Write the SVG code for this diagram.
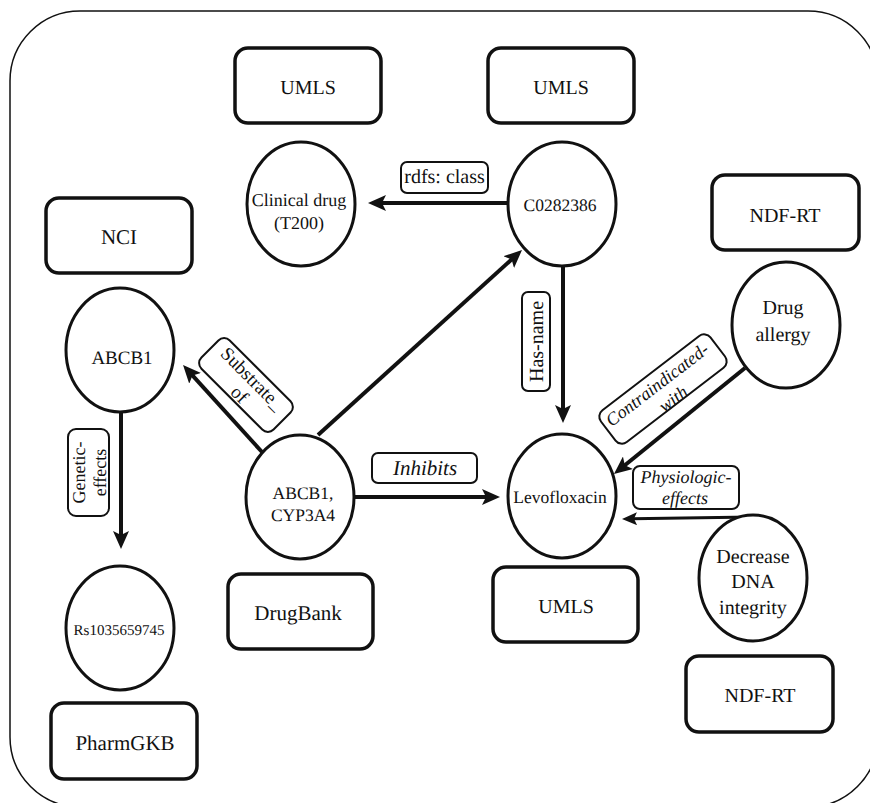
<svg xmlns="http://www.w3.org/2000/svg" width="870" height="803" viewBox="0 0 870 803">
<defs>
<style>
text{font-family:"Liberation Serif",serif;fill:#111;text-anchor:middle;dominant-baseline:central;text-rendering:geometricPrecision}
.f15{font-size:15px}.f175{font-size:17.5px}.f18{font-size:18px}.f19{font-size:19px}.f20{font-size:20px}.f21{font-size:21px}
.src{fill:#fff;stroke:#111;stroke-width:3.5}
.ent{fill:#fff;stroke:#111;stroke-width:3}
.lbl{fill:#fff;stroke:#111;stroke-width:2}
.edge{fill:none;stroke:#111;stroke-width:4}
.thin{fill:none;stroke:#111;stroke-width:3}
.it{font-style:italic}
</style>
<marker id="ah" markerUnits="userSpaceOnUse" markerWidth="18" markerHeight="16" refX="6" refY="8" orient="auto">
<path d="M0,0 L18,8 L0,16 L4,8 Z" fill="#111"/>
</marker>
<marker id="ahs" markerUnits="userSpaceOnUse" markerWidth="15" markerHeight="13" refX="5" refY="6.5" orient="auto">
<path d="M0,0 L15,6.5 L0,13 L3,6.5 Z" fill="#111"/>
</marker>
</defs>
<rect x="0" y="0" width="870" height="803" fill="#fff"/>
<rect x="10" y="11" width="868" height="796" rx="70" ry="70" fill="none" stroke="#111" stroke-width="1.5"/>

<g id="connectors">
<line class="edge" x1="508" y1="203" x2="380" y2="203" marker-end="url(#ah)"/>
<line class="edge" x1="318" y1="435" x2="513.1" y2="258.1" marker-end="url(#ah)"/>
<line class="edge" x1="262" y1="452" x2="191.1" y2="373.9" marker-end="url(#ah)"/>
<line class="edge" x1="121" y1="412" x2="121" y2="537" marker-end="url(#ah)"/>
<line class="edge" x1="563" y1="267" x2="563" y2="411" marker-end="url(#ah)"/>
<line class="edge" x1="354" y1="497" x2="488" y2="497" marker-end="url(#ah)"/>
<line class="edge" x1="745" y1="368" x2="623.3" y2="466.5" marker-end="url(#ah)"/>
<line class="thin" x1="752" y1="517" x2="632" y2="518.8" marker-end="url(#ahs)"/>

<g id="lbl-rdfs">
<rect class="lbl" x="401" y="162" width="87" height="31" rx="6"/>
<text class="f20" x="444.5" y="177">rdfs: class</text>
</g>
<g id="lbl-hasname">
<rect class="lbl" x="522" y="292" width="28" height="99" rx="6"/>
<text class="f20" transform="translate(536.5,341.5) rotate(-90)" x="0" y="0">Has-name</text>
</g>
<g id="lbl-genetic" transform="translate(88.5,472.5) rotate(-90)">
<rect class="lbl" x="-43.5" y="-20.5" width="87" height="41" rx="8"/>
<text class="f18" x="0" y="-9.5">Genetic-</text>
<text class="f18" x="0" y="11">effects</text>
</g>
<g id="lbl-substrate" transform="translate(246,385) rotate(45)">
<rect class="lbl" x="-51" y="-20" width="102" height="40" rx="8"/>
<text class="f19" x="0" y="-8">Substrate_</text>
<text class="f19" x="2" y="12">of</text>
</g>
<g id="lbl-inhibits">
<rect class="lbl" x="372" y="453" width="105" height="30" rx="6"/>
<text class="it f21" x="425" y="468">Inhibits</text>
</g>
<g id="lbl-contra" transform="translate(663,389) rotate(-37.5)">
<rect class="lbl" x="-69" y="-20" width="138" height="40" rx="8"/>
<text class="it f18" x="-2" y="-7">Contraindicated-</text>
<text class="it f18" x="2" y="14">with</text>
</g>
<g id="lbl-physio">
<rect class="lbl" x="633" y="466" width="106" height="43" rx="7"/>
<text class="it f18" x="686" y="477">Physiologic-</text>
<text class="it f18" x="685" y="498">effects</text>
</g>
</g>

<g id="src-umls1"><rect class="src" x="235" y="48" width="146" height="75" rx="13"/><text class="f20" x="308" y="88">UMLS</text></g>
<g id="src-umls2"><rect class="src" x="488" y="48" width="146" height="75" rx="13"/><text class="f20" x="561" y="88">UMLS</text></g>
<g id="src-ndfrt1"><rect class="src" x="712" y="175" width="147" height="75" rx="13"/><text class="f20" x="785" y="216">NDF-RT</text></g>
<g id="src-nci"><rect class="src" x="46" y="198" width="146" height="75" rx="13"/><text class="f21" x="119" y="237">NCI</text></g>
<g id="src-drugbank"><rect class="src" x="228" y="574" width="145" height="75" rx="13"/><text class="f21" x="298" y="613">DrugBank</text></g>
<g id="src-pharmgkb"><rect class="src" x="51" y="703" width="146" height="76" rx="13"/><text class="f21" x="125" y="743">PharmGKB</text></g>
<g id="src-umls3"><rect class="src" x="493" y="567" width="145" height="75" rx="13"/><text class="f20" x="566" y="607">UMLS</text></g>
<g id="src-ndfrt2"><rect class="src" x="686" y="656" width="147" height="76" rx="13"/><text class="f20" x="760" y="696">NDF-RT</text></g>

<g id="n-clinical"><ellipse class="ent" cx="301" cy="204" rx="54" ry="62"/><text class="f18" x="299" y="200">Clinical drug</text><text class="f18" x="299" y="223">(T200)</text></g>
<g id="n-c0282386"><ellipse class="ent" cx="562" cy="204" rx="54" ry="62"/><text class="f175" x="560" y="205">C0282386</text></g>
<g id="n-abcb1"><ellipse class="ent" cx="120" cy="350" rx="54" ry="62"/><text class="f19" x="122" y="358">ABCB1</text></g>
<g id="n-abcb1cyp"><ellipse class="ent" cx="300" cy="497" rx="54" ry="62"/><text class="f175" x="303" y="493">ABCB1,</text><text class="f175" x="303" y="515">CYP3A4</text></g>
<g id="n-rs"><ellipse class="ent" cx="120" cy="628" rx="54" ry="62"/><text class="f15" x="119" y="631">Rs1035659745</text></g>
<g id="n-levo"><ellipse class="ent" cx="562" cy="496" rx="54" ry="62"/><text class="f175" x="560" y="497">Levofloxacin</text></g>
<g id="n-allergy"><ellipse class="ent" cx="786" cy="325" rx="54" ry="63"/><text class="f20" x="783" y="308">Drug</text><text class="f20" x="783" y="335">allergy</text></g>
<g id="n-dna"><ellipse class="ent" cx="753" cy="578" rx="54" ry="63"/><text class="f20" x="753" y="557">Decrease</text><text class="f20" x="753" y="582">DNA</text><text class="f20" x="753" y="608">integrity</text></g>
</svg>
